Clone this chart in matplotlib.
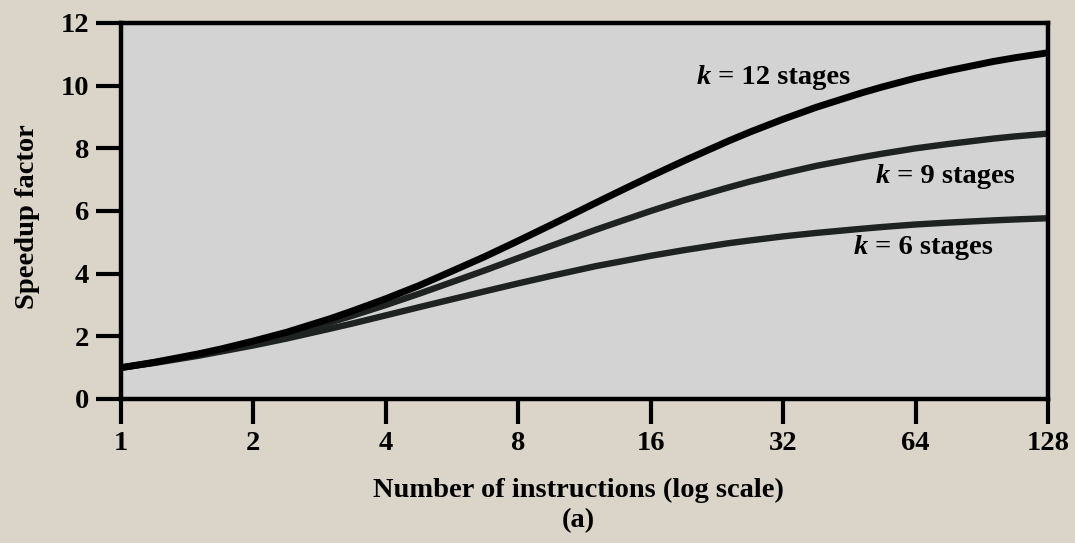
import matplotlib
matplotlib.use('Agg')
from matplotlib import pyplot as plt

# values (number of instructions vs speedup)
n_instr = [1, 1.19, 1.5, 1.68, 2, 2.38, 3, 3.36, 4, 4.76, 6, 6.73, 8, 9.51, 12, 13.45,
           16, 19.03, 24, 26.9, 32, 38.05, 48, 53.8, 64, 76.1, 96, 107.6, 128]
speedup_k12 = [1.0, 1.17, 1.44, 1.59, 1.85, 2.13, 2.57, 2.81, 3.2, 3.62, 4.24, 4.55, 5.05, 5.56,
               6.26, 6.60, 7.11, 7.60, 8.23, 8.52, 8.93, 9.31, 9.76, 9.96, 10.24, 10.48, 10.77,
               10.89, 11.05]
speedup_k9 = [1.0, 1.17, 1.42, 1.56, 1.8, 2.06, 2.45, 2.66, 3.0, 3.36, 3.86, 4.11, 4.5, 4.89,
              5.4, 5.64, 6.0, 6.34, 6.75, 6.94, 7.2, 7.44, 7.71, 7.83, 8.0, 8.14, 8.31, 8.38, 8.47]
speedup_k6 = [1.0, 1.15, 1.38, 1.51, 1.71, 1.93, 2.25, 2.41, 2.67, 2.93, 3.27, 3.44, 3.69, 3.93,
              4.24, 4.37, 4.57, 4.75, 4.97, 5.06, 5.19, 5.30, 5.43, 5.49, 5.57, 5.63, 5.70, 5.73, 5.77]

x_ticks = [1, 2, 4, 8, 16, 32, 64, 128]
y_ticks = [0, 2, 4, 6, 8, 10, 12]

plt.rcParams['font.family'] = ['Liberation Serif', 'DejaVu Serif']
plt.rcParams['font.weight'] = 'bold'
FS = 20.5

fig = plt.figure(figsize=(10.75, 5.43), dpi=100)
fig.patch.set_facecolor('#dbd5c9')
ax = fig.add_axes([121 / 1075, 1 - 399 / 543, (1048 - 121) / 1075, (399 - 23) / 543])
ax.set_facecolor('#d3d3d3')

# curves
ax.plot(n_instr, speedup_k6, color='#1e2322', lw=4.6, solid_joinstyle='round')
ax.plot(n_instr, speedup_k9, color='#1e2322', lw=4.6, solid_joinstyle='round')
ax.plot(n_instr, speedup_k12, color='#000000', lw=5.0, solid_joinstyle='round')

ax.set_xscale('log', base=2)
ax.set_xlim(1, 128)
ax.set_ylim(0, 12)
ax.set_xticks(x_ticks)
ax.set_xticklabels([str(t) for t in x_ticks])
ax.set_yticks(y_ticks)
ax.minorticks_off()

for s in ax.spines.values():
    s.set_linewidth(3.2)
    s.set_color('black')

ax.tick_params(axis='both', direction='out', length=18, width=3, labelsize=FS, color='black')
ax.tick_params(axis='x', pad=5)
ax.tick_params(axis='y', pad=5)

# curve labels: italic k followed by the rest
fig.canvas.draw()
renderer = fig.canvas.get_renderer()


def label(x_px, y_px, k):
    t = fig.text(x_px / 1075, 1 - y_px / 543, 'k', fontsize=FS, fontstyle='italic',
                 fontweight='bold', va='center', ha='left')
    w = t.get_window_extent(renderer).width
    fig.text((x_px + w) / 1075, 1 - y_px / 543, ' = %d stages' % k,
             fontsize=FS, fontweight='bold', va='center', ha='left')


label(697, 78, 12)
label(876, 177, 9)
label(854, 248, 6)

# axis titles
fig.text(28 / 1075, 1 - 217 / 543, 'Speedup factor', rotation=90,
         fontsize=FS, fontweight='bold', ha='center', va='center')
xc = 578 / 1075
fig.text(xc, 1 - 490 / 543, 'Number of instructions (log scale)',
         fontsize=FS, fontweight='bold', ha='center', va='center')
fig.text(xc, 1 - 521 / 543, '(a)',
         fontsize=FS, fontweight='bold', ha='center', va='center')

fig.savefig('out.png', dpi=100, facecolor=fig.get_facecolor())
